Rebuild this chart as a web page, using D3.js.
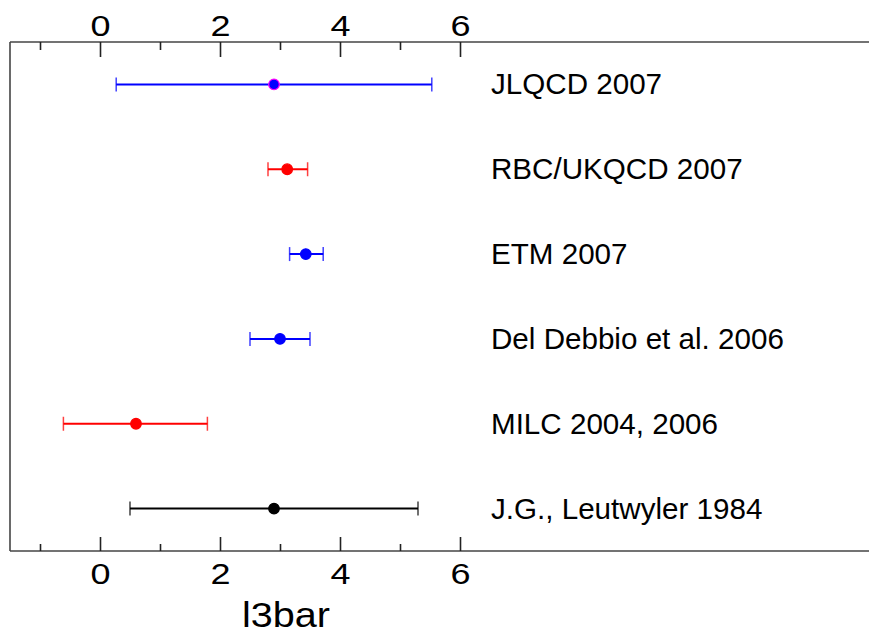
<!DOCTYPE html>
<html>
<head>
<meta charset="utf-8">
<script src="https://cdn.jsdelivr.net/npm/d3@7"></script>
<style>
  html, body { margin: 0; padding: 0; background: #fff; }
  svg { display: block; font-family: Arial, "Liberation Sans", Helvetica, sans-serif; }
</style>
</head>
<body>
<svg id="chart" width="869" height="636"></svg>
<script>
// ---- data ----
const labels = ["JLQCD 2007", "RBC/UKQCD 2007", "ETM 2007", "Del Debbio et al. 2006", "MILC 2004, 2006", "J.G., Leutwyler 1984"];
const central = [2.9, 3.12, 3.43, 3.0, 0.6, 2.9];
const lower   = [0.27, 2.8, 3.16, 2.5, -0.61, 0.5];
const upper   = [5.53, 3.46, 3.72, 3.5, 1.79, 5.3];
const colors  = ["#0000ff", "#ff0000", "#0000ff", "#0000ff", "#ff0000", "#000000"];
const markerStroke = ["#ff00ff", "#ff0000", "#0000ff", "#0000ff", "#ff0000", "#000000"];
const majorTicks = [0, 2, 4, 6];
const minorTicks = [-1, 1, 3, 5];
const xTitle = "l3bar";

(function () {
const svg = d3.select("#chart");
const pLeft = 10, pRight = 869, pTop = 42, pBottom = 551;

const x = d3.scaleLinear().domain([-1.5, 12.8167]).range([pLeft, pRight]);
const y = d3.scalePoint().domain(labels).range([pTop, pBottom]).padding(0.5);

// frame lines
const frame = svg.append("g").attr("stroke", "#444").attr("stroke-width", 1.6);
frame.append("line").attr("x1", pLeft).attr("x2", pRight).attr("y1", pTop).attr("y2", pTop);
frame.append("line").attr("x1", pLeft).attr("x2", pRight).attr("y1", pBottom).attr("y2", pBottom);
frame.append("line").attr("x1", pLeft).attr("x2", pLeft).attr("y1", pTop).attr("y2", pBottom);

function styleAxis(g) {
  g.select(".domain").remove();
  g.selectAll(".tick line").attr("stroke", "#222").attr("stroke-width", 1.6);
  g.selectAll(".tick text")
    .attr("fill", "#000")
    .attr("font-size", 30)
    .attr("font-family", "Arial, 'Liberation Sans', sans-serif");
}

// top axis
svg.append("g").attr("transform", `translate(0,${pTop})`)
  .call(d3.axisTop(x).tickValues(majorTicks).tickSize(-15).tickPadding(6).tickFormat(d3.format("d")))
  .call(styleAxis);
svg.append("g").attr("transform", `translate(0,${pTop})`)
  .call(d3.axisTop(x).tickValues(minorTicks).tickSize(-8).tickFormat(""))
  .call(styleAxis);

// bottom axis
svg.append("g").attr("transform", `translate(0,${pBottom})`)
  .call(d3.axisBottom(x).tickValues(majorTicks).tickSize(-14).tickPadding(12).tickFormat(d3.format("d")))
  .call(styleAxis);
svg.append("g").attr("transform", `translate(0,${pBottom})`)
  .call(d3.axisBottom(x).tickValues(minorTicks).tickSize(-7).tickFormat(""))
  .call(styleAxis);

// widen tick label glyphs to match reference
svg.selectAll(".tick text").attr("transform", "scale(1.2,1)");

// axis title
svg.append("text")
  .attr("x", 286).attr("y", 627)
  .attr("text-anchor", "middle")
  .attr("font-size", 35)
  .attr("textLength", 88)
  .attr("lengthAdjust", "spacingAndGlyphs")
  .attr("fill", "#000")
  .text(xTitle);

// error bars
const rows = svg.append("g").selectAll("g").data(labels).join("g");
rows.append("line")
  .attr("x1", (d, i) => x(lower[i])).attr("x2", (d, i) => x(upper[i]))
  .attr("y1", d => y(d)).attr("y2", d => y(d))
  .attr("stroke", (d, i) => colors[i]).attr("stroke-width", 2);
rows.append("line")
  .attr("x1", (d, i) => x(lower[i])).attr("x2", (d, i) => x(lower[i]))
  .attr("y1", d => y(d) - 7).attr("y2", d => y(d) + 7)
  .attr("stroke", (d, i) => colors[i]).attr("stroke-width", 1.5).attr("stroke-opacity", 0.75);
rows.append("line")
  .attr("x1", (d, i) => x(upper[i])).attr("x2", (d, i) => x(upper[i]))
  .attr("y1", d => y(d) - 7).attr("y2", d => y(d) + 7)
  .attr("stroke", (d, i) => colors[i]).attr("stroke-width", 1.5).attr("stroke-opacity", 0.75);
rows.append("circle")
  .attr("cx", (d, i) => x(central[i])).attr("cy", d => y(d))
  .attr("r", 5.3)
  .attr("fill", (d, i) => colors[i])
  .attr("stroke", (d, i) => markerStroke[i]).attr("stroke-width", 1.2);

// labels
rows.append("text")
  .attr("x", 491).attr("y", d => y(d) + 10)
  .attr("font-size", 29.6)
  .attr("fill", "#000")
  .text(d => d);
})();
</script>
</body>
</html>
